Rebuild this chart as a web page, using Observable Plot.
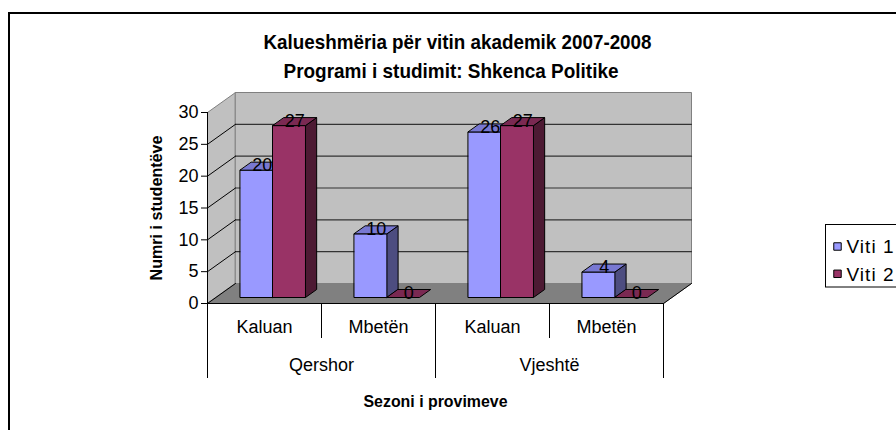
<!DOCTYPE html>
<html><head><meta charset="utf-8">
<script src="https://cdn.jsdelivr.net/npm/d3@7"></script>
<script src="https://cdn.jsdelivr.net/npm/@observablehq/plot@0.6"></script>
<style>
body{margin:0;background:#fff;}
#chart{position:relative;width:896px;height:430px;overflow:hidden;background:#fff;}
</style></head><body><div id="chart"></div>
<script>
// ---- data ----
const categories = ["Kaluan", "Mbetën", "Kaluan", "Mbetën"];
const seasons = ["Qershor", "Vjeshtë"];
const seriesNames = ["Viti 1", "Viti 2"];
const viti1 = [20, 10, 26, 4];
const viti2 = [27, 0, 27, 0];
const yTicks = [0, 5, 10, 15, 20, 25, 30];
const titleLines = ["Kalueshmëria për vitin akademik 2007-2008", "Programi i studimit: Shkenca Politike"];
const yLabel = "Numri i studentëve";
const xLabel = "Sezoni i provimeve";

// ---- styles ----
const palette = [
  {front: "#9999FF", top: "#7878D2", side: "#4D4D80"},
  {front: "#993366", top: "#7A2952", side: "#4D1A33"}
];

// ---- layout ----
const W = 896, H = 430, mL = 207, mR = 233, mT = 112, mB = 127;
const nCat = categories.length, yMax = 30;
const pxX = (W - mL - mR) / nCat, pxY = (H - mT - mB) / yMax;
const DX = 28 / pxX, DY = 20 / pxY;          // wall depth in data units
const bw = 1 / 3.5, gap = 0.75 / 3.5;         // bar width & gap (gap width 150%)
const z0 = 0.3, zd = 0.4;                     // bar depth placement
const values = [viti1, viti2];

// ---- geometry ----
const walls = [];
let pid = 0;
function poly(arr, pts, fill) { const id = pid++; pts.forEach(([x, y]) => arr.push({id, x, y, fill})); }
poly(walls, [[0, 0], [0, yMax], [DX, yMax + DY], [DX, DY]], "#C0C0C0");
poly(walls, [[DX, DY], [nCat + DX, DY], [nCat + DX, yMax + DY], [DX, yMax + DY]], "#C0C0C0");
poly(walls, [[0, 0], [nCat, 0], [nCat + DX, DY], [DX, DY]], "#808080");

const grid = [];
yTicks.filter(t => t > 0 && t < yMax).forEach((t, k) => {
  grid.push({id: "g" + k, x: DX, y: t + DY}, {id: "g" + k, x: nCat + DX, y: t + DY});
});
const diag = [];
yTicks.filter(t => t < yMax).forEach((t, k) => {
  diag.push({id: "d" + k, x: 0, y: t}, {id: "d" + k, x: DX, y: t + DY});
});
diag.push({id: "fr", x: nCat, y: 0}, {id: "fr", x: nCat + DX, y: DY});
diag.push({id: "ff", x: 0, y: 0}, {id: "ff", x: nCat, y: 0});

const bars = [], labels = [];
categories.forEach((c, i) => {
  values.forEach((vals, s) => {
    const v = vals[i];
    const x1 = i + gap + s * bw + z0 * DX, x2 = x1 + bw, b = z0 * DY;
    const bdx = zd * DX, bdy = zd * DY;
    if (v > 0) {
      poly(bars, [[x2, b], [x2 + bdx, b + bdy], [x2 + bdx, b + v + bdy], [x2, b + v]], palette[s].side);
      poly(bars, [[x1, b], [x2, b], [x2, b + v], [x1, b + v]], palette[s].front);
    }
    poly(bars, [[x1, b + v], [x2, b + v], [x2 + bdx, b + v + bdy], [x1 + bdx, b + v + bdy]], palette[s].top);
    labels.push({x: x1 + bw / 2 + bdx / 2, y: b + v, text: String(v)});
  });
});

const bounds = d3.range(nCat + 1).map(i => ({x: i, outer: i % 2 === 0}));

const plot = Plot.plot({
  width: W, height: H,
  marginLeft: mL, marginRight: mR, marginTop: mT, marginBottom: mB,
  x: {domain: [0, nCat], axis: null},
  y: {domain: [0, yMax], axis: null},
  color: {type: "identity"},
  style: {fontFamily: "Liberation Sans, Arial, sans-serif", fontSize: "18px", color: "#000", background: "transparent", overflow: "visible"},
  marks: [
    Plot.line(walls, {x: "x", y: "y", z: "id", fill: "fill", stroke: "#808080", strokeWidth: 1, curve: "linear-closed"}),
    Plot.line(grid, {x: "x", y: "y", z: "id", stroke: "#333333", strokeWidth: 1.2}),
    Plot.line(diag, {x: "x", y: "y", z: "id", stroke: "#000", strokeWidth: 1}),
    Plot.line(bars, {x: "x", y: "y", z: "id", fill: "fill", stroke: "#000", strokeWidth: 1, curve: "linear-closed"}),
    Plot.text(labels, {x: "x", y: "y", text: "text", lineAnchor: "bottom", dy: 1, fontSize: 18}),
    Plot.ruleX([0], {y1: 0, y2: yMax, stroke: "#000"}),
    Plot.axisY({ticks: yTicks, tickSize: 6, tickPadding: 3, fontSize: 18, label: null, stroke: "#000"}),
    Plot.ruleX(bounds, {x: "x", y1: 0, y2: d => -(d.outer ? 75 : 35) / pxY, stroke: "#000"}),
    Plot.text(categories, {x: (d, i) => i + 0.5, y: 0, text: d => d, dy: 29, lineAnchor: "bottom", fontSize: 18}),
    Plot.text(seasons, {x: (d, i) => i * 2 + 1, y: 0, text: d => d, dy: 67, lineAnchor: "bottom", fontSize: 18}),
    Plot.text([xLabel], {x: nCat / 2, y: 0, text: d => d, dy: 103, lineAnchor: "bottom", fontSize: 17, fontWeight: "bold", className: "tx"}),
    Plot.text([yLabel], {x: 0, y: yMax / 2, text: d => d, dx: -51, rotate: -90, lineAnchor: "middle", fontSize: 17, fontWeight: "bold", className: "ty"}),
    Plot.text([titleLines[0]], {frameAnchor: "top", text: d => d, dx: 22, dy: -64, lineAnchor: "bottom", fontSize: 21, fontWeight: "bold", className: "t1"}),
    Plot.text([titleLines[1]], {frameAnchor: "top", text: d => d, dx: 15.5, dy: -35, lineAnchor: "bottom", fontSize: 21, fontWeight: "bold", className: "t2"}),
    Plot.dot([seriesNames[0]], {frameAnchor: "right", dx: 174, dy: 38.5, symbol: "square", r: 4.2, fill: palette[0].front, stroke: "#000", strokeWidth: 1}),
    Plot.dot([seriesNames[1]], {frameAnchor: "right", dx: 174, dy: 65.8, symbol: "square", r: 4.2, fill: palette[1].front, stroke: "#000", strokeWidth: 1}),
    Plot.text([seriesNames[0]], {frameAnchor: "right", text: d => d, dx: 183, dy: 44.5, textAnchor: "start", lineAnchor: "bottom", fontSize: 19, className: "lg"}),
    Plot.text([seriesNames[1]], {frameAnchor: "right", text: d => d, dx: 183, dy: 72.5, textAnchor: "start", lineAnchor: "bottom", fontSize: 19, className: "lg"})
  ]
});

const svg = d3.select(plot);
const fit = (cls, len) => svg.selectAll("." + cls + " text").attr("textLength", len).attr("lengthAdjust", "spacingAndGlyphs");
fit("t1", 388); fit("t2", 335); fit("tx", 144); fit("ty", 145);
svg.selectAll(".lg text").attr("textLength", 47).attr("lengthAdjust", "spacing");
// legend box and outer chart frame
svg.insert("rect", ":first-child").attr("x", 825.5).attr("y", 224.5).attr("width", 120).attr("height", 62.5)
  .attr("fill", "#fff").attr("stroke", "#000");
svg.insert("rect", ":first-child").attr("x", 9).attr("y", 13).attr("width", 1000).attr("height", 1000)
  .attr("fill", "#fff").attr("stroke", "#000").attr("stroke-width", 2);
document.getElementById("chart").appendChild(plot);
</script></body></html>
